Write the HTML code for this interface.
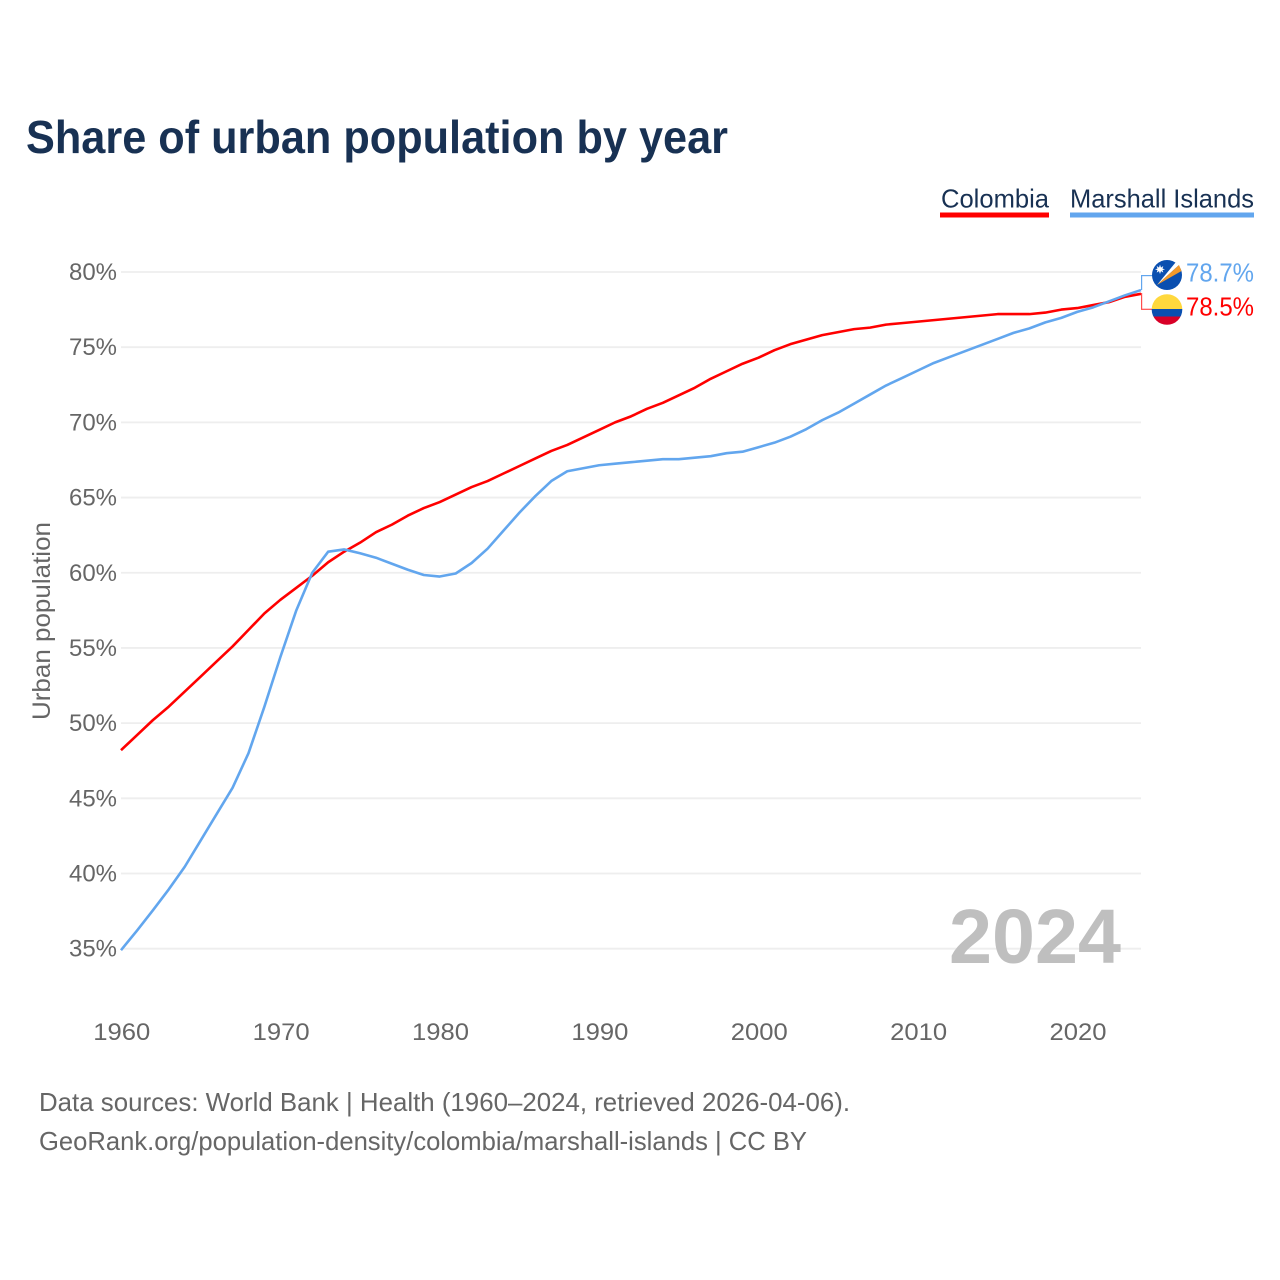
<!DOCTYPE html>
<html lang="en">
<head>
<meta charset="utf-8">
<title>Share of urban population by year</title>
<style>
  html, body { margin: 0; padding: 0; background: #fff; }
  svg { display: block; font-family: "Liberation Sans", sans-serif; }
</style>
</head>
<body>
<svg id="chart" xmlns="http://www.w3.org/2000/svg" width="1280" height="1280" viewBox="0 0 1280 1280">
  <rect x="0" y="0" width="1280" height="1280" fill="#ffffff"/>
  <text x="26" y="153" font-size="46" font-weight="700" fill="#183153" textLength="702" lengthAdjust="spacingAndGlyphs">Share of urban population by year</text>

  <g>
    <g>
      <text x="941" y="207.500" font-size="26" fill="#183153" textLength="108" lengthAdjust="spacingAndGlyphs">Colombia</text>
      <rect x="940" y="212.500" width="109" height="5" fill="#ff0000"/>
    </g>
    <g>
      <text x="1070" y="207.500" font-size="26" fill="#183153" textLength="184" lengthAdjust="spacingAndGlyphs">Marshall Islands</text>
      <rect x="1070" y="212.500" width="184" height="5" fill="#62a6ee"/>
    </g>
  </g>

  <g id="grid"></g>
  <g id="yTicks"></g>
  <g id="xTicks"></g>
  <text transform="translate(50 621) rotate(-90)" text-anchor="middle" font-size="25" fill="#666666" textLength="198" lengthAdjust="spacingAndGlyphs">Urban population</text>

  <text x="949" y="963" font-size="77" font-weight="700" fill="#bfbfbf" textLength="172" lengthAdjust="spacingAndGlyphs">2024</text>

  <g id="series"></g>

  <g>
    <rect x="1141" y="275" width="1.200" height="15" fill="#62a6ee"/>
    <rect x="1141" y="275" width="12" height="1.200" fill="#62a6ee"/>
    <g>
      <circle cx="1167" cy="275" r="15" fill="#0a4fb0"/>
      <path d="M1157 285 L1175.500 262.500 L1179 265 Z" fill="#ffffff"/>
      <path d="M1157 285 L1179 265 L1181.500 271 Z" fill="#f39a2b"/>
      <polygon points="1160,264.600 1161,267.600 1163.300,266 1162.500,268.600 1165,269.300 1162.500,270.100 1163.300,272.600 1161,271.100 1160,274 1159,271.100 1156.700,272.600 1157.500,270.100 1155,269.300 1157.500,268.600 1156.700,266 1159,267.600" fill="#ffffff"/>
    </g>
    <text id="valueMarshall" x="1186" y="281.500" font-size="25.500" fill="#62a6ee" textLength="68" lengthAdjust="spacingAndGlyphs"></text>
  </g>
  <g>
    <rect x="1141" y="293" width="1.200" height="16.500" fill="#ff4d4d"/>
    <rect x="1141" y="308.700" width="12" height="1.200" fill="#ff4d4d"/>
    <g>
      <clipPath id="colombiaClip"><circle cx="1167" cy="309.500" r="15.300"/></clipPath>
      <g clip-path="url(#colombiaClip)">
        <rect x="1151" y="293" width="32" height="16" fill="#ffd83d"/>
        <rect x="1151" y="309" width="32" height="7.500" fill="#0a4fb0"/>
        <rect x="1151" y="316.500" width="32" height="9.500" fill="#d80027"/>
      </g>
    </g>
    <text id="valueColombia" x="1186" y="315.500" font-size="25.500" fill="#ff0000" textLength="68" lengthAdjust="spacingAndGlyphs"></text>
  </g>

  <g>
    <text x="39" y="1111" font-size="26" fill="#666666" textLength="811" lengthAdjust="spacingAndGlyphs">Data sources: World Bank | Health (1960–2024, retrieved 2026-04-06).</text>
    <text x="39" y="1150" font-size="26" fill="#666666" textLength="768" lengthAdjust="spacingAndGlyphs">GeoRank.org/population-density/colombia/marshall-islands | CC BY</text>
  </g>
</svg>
<script>
const years = [1960,1961,1962,1963,1964,1965,1966,1967,1968,1969,1970,1971,1972,1973,1974,1975,1976,1977,1978,1979,1980,1981,1982,1983,1984,1985,1986,1987,1988,1989,1990,1991,1992,1993,1994,1995,1996,1997,1998,1999,2000,2001,2002,2003,2004,2005,2006,2007,2008,2009,2010,2011,2012,2013,2014,2015,2016,2017,2018,2019,2020,2021,2022,2023,2024];
const colombia = [48.2,49.2,50.2,51.1,52.1,53.1,54.1,55.1,56.2,57.3,58.2,59.0,59.8,60.7,61.4,62.0,62.7,63.2,63.8,64.3,64.7,65.2,65.7,66.1,66.6,67.1,67.6,68.1,68.5,69.0,69.5,70.0,70.4,70.9,71.3,71.8,72.3,72.9,73.4,73.9,74.3,74.8,75.2,75.5,75.8,76.0,76.2,76.3,76.5,76.6,76.7,76.8,76.9,77.0,77.1,77.2,77.2,77.2,77.3,77.5,77.6,77.8,78.0,78.35,78.55];
const marshallIslands = [34.9,36.2,37.55,38.95,40.45,42.2,43.95,45.7,48.0,51.1,54.4,57.5,60.0,61.4,61.55,61.3,61.0,60.6,60.2,59.85,59.75,59.95,60.65,61.6,62.8,64.0,65.1,66.1,66.75,66.95,67.15,67.25,67.35,67.45,67.55,67.55,67.65,67.75,67.95,68.05,68.35,68.65,69.05,69.55,70.15,70.65,71.25,71.85,72.45,72.95,73.45,73.95,74.35,74.75,75.15,75.55,75.95,76.25,76.65,76.95,77.35,77.65,78.05,78.45,78.8];
const yTickValues = [35,40,45,50,55,60,65,70,75,80];
const yTickLabels = ["35%","40%","45%","50%","55%","60%","65%","70%","75%","80%"];
const xTickValues = [1960,1970,1980,1990,2000,2010,2020];
const xTickLabels = ["1960","1970","1980","1990","2000","2010","2020"];
const endLabelMarshall = "78.7%";
const endLabelColombia = "78.5%";

const NS = "http://www.w3.org/2000/svg";
const xScale = function (year) { return 121 + (year - 1960) * (1020 / 64); };
const yScale = function (value) { return 948.7 - (value - 35) * (676.7 / 45); };

const gridGroup = document.getElementById("grid");
const yTickGroup = document.getElementById("yTicks");
const xTickGroup = document.getElementById("xTicks");
const seriesGroup = document.getElementById("series");

yTickValues.forEach(function (value, i) {
  const line = document.createElementNS(NS, "line");
  
  
  line.setAttribute("x1", xScale(1960));
  line.setAttribute("x2", xScale(2024));
  line.setAttribute("y1", yScale(value));
  line.setAttribute("y2", yScale(value));
  line.setAttribute("stroke", "#eeeeee");
  line.setAttribute("stroke-width", "1.8");
  gridGroup.appendChild(line);

  const label = document.createElementNS(NS, "text");
  
  
  label.setAttribute("x", 69);
  label.setAttribute("y", yScale(value) + 8);
  label.setAttribute("font-size", "24");
  label.setAttribute("fill", "#666666");
  label.setAttribute("textLength", "48");
  label.setAttribute("lengthAdjust", "spacingAndGlyphs");
  label.textContent = yTickLabels[i];
  yTickGroup.appendChild(label);
});

xTickValues.forEach(function (year, i) {
  const label = document.createElementNS(NS, "text");
  
  
  label.setAttribute("x", xScale(year) - 27.7);
  label.setAttribute("y", 1040);
  label.setAttribute("font-size", "24");
  label.setAttribute("fill", "#666666");
  label.setAttribute("textLength", "57");
  label.setAttribute("lengthAdjust", "spacingAndGlyphs");
  label.textContent = xTickLabels[i];
  xTickGroup.appendChild(label);
});

function linePoints(values) {
  return values.map(function (v, i) { return xScale(years[i]).toFixed(2) + "," + yScale(v).toFixed(2); }).join(" ");
}

const colombiaLine = document.createElementNS(NS, "polyline");


colombiaLine.setAttribute("points", linePoints(colombia));
colombiaLine.setAttribute("fill", "none");
colombiaLine.setAttribute("stroke", "#ff0000");
colombiaLine.setAttribute("stroke-width", "2.6");
colombiaLine.setAttribute("stroke-linejoin", "round");
seriesGroup.appendChild(colombiaLine);

const marshallLine = document.createElementNS(NS, "polyline");


marshallLine.setAttribute("points", linePoints(marshallIslands));
marshallLine.setAttribute("fill", "none");
marshallLine.setAttribute("stroke", "#62a6ee");
marshallLine.setAttribute("stroke-width", "2.6");
marshallLine.setAttribute("stroke-linejoin", "round");
seriesGroup.appendChild(marshallLine);

document.getElementById("valueMarshall").textContent = endLabelMarshall;
document.getElementById("valueColombia").textContent = endLabelColombia;
</script>
</body>
</html>
